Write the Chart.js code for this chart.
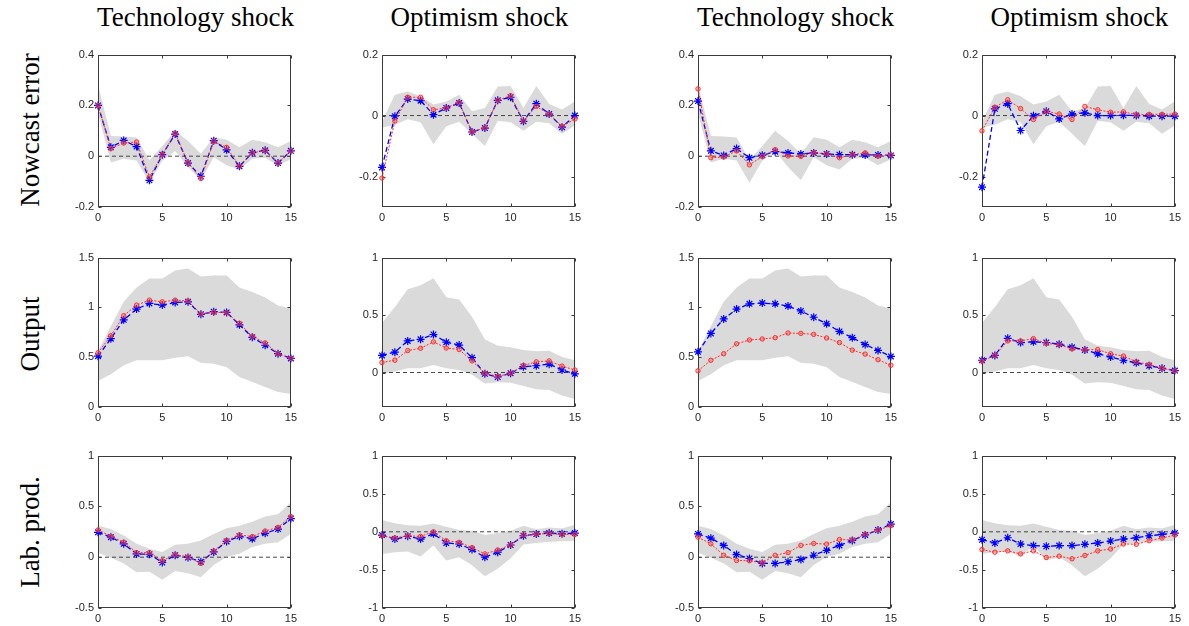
<!DOCTYPE html>
<html>
<head>
<meta charset="utf-8">
<script src="https://cdn.jsdelivr.net/npm/chart.js@4"></script>
<style>
  html, body { margin: 0; padding: 0; background: #fff; }
  #page { position: relative; width: 1189px; height: 626px; overflow: hidden; background: #fff; }
  #page canvas { position: absolute; }
  .colTitle, .rowTitle { position: absolute; font-family: "Liberation Serif", serif; font-size: 27px; color: #000; white-space: nowrap; }
  .colTitle { width: 260px; text-align: center; top: 2px; }
  .rowTitle { transform: translate(-50%, -50%) rotate(-90deg); }
</style>
</head>
<body>
<div id="page"></div>
<script>
// horizon (quarters)
const steps = [0, 1, 2, 3, 4, 5, 6, 7, 8, 9, 10, 11, 12, 13, 14, 15];
const xTicks = [0, 5, 10, 15];

const colTitles = ["Technology shock", "Optimism shock", "Technology shock", "Optimism shock"];
const rowTitles = ["Nowcast error", "Output", "Lab. prod."];

// Nowcast error - technology shock
const nowTechHi = [0.28, 0.08, 0.078, 0.074, -0.015, 0.04, 0.1, 0.06, 0.01, 0.075, 0.065, 0.035, 0.065, 0.055, 0.035, 0.06];
const nowTechLo = [0.17, -0.025, -0.01, -0.017, -0.105, -0.018, 0.02, -0.043, -0.095, -0.004, -0.036, -0.052, -0.01, -0.006, -0.036, -0.012];
const nowTechRedA = [0.2, 0.03, 0.052, 0.056, -0.082, 0.006, 0.091, -0.026, -0.088, 0.058, 0.035, -0.039, 0.013, 0.023, -0.027, 0.021];
const nowTechBlueA = [0.2, 0.035, 0.062, 0.038, -0.095, 0.006, 0.087, -0.027, -0.079, 0.061, 0.025, -0.04, 0.014, 0.023, -0.027, 0.021];
const nowTechRedB = [0.265, -0.006, -0.003, 0.021, -0.034, -0.001, 0.026, 0.001, -0.001, 0.014, 0.009, -0.006, 0.006, 0.013, 0, 0.005];
const nowTechBlueB = [0.217, 0.021, 0.003, 0.03, -0.006, 0.004, 0.018, 0.013, 0.009, 0.013, 0.009, 0.006, 0.006, 0.005, 0.005, 0.003];

// Nowcast error - optimism shock
const nowOptHi = [-0.02, 0.068, 0.079, 0.063, 0.036, 0.046, 0.068, 0.014, 0.025, 0.095, 0.097, 0.025, 0.097, 0.038, 0.02, 0.046];
const nowOptLo = [-0.04, -0.03, -0.012, -0.022, -0.094, -0.035, -0.02, -0.06, -0.1, -0.018, -0.022, -0.05, -0.02, -0.025, -0.06, -0.033];
const nowOptRedA = [-0.205, -0.018, 0.06, 0.06, 0.019, 0.025, 0.043, -0.054, -0.04, 0.05, 0.065, -0.018, 0.03, 0.005, -0.035, -0.011];
const nowOptBlueA = [-0.17, -0.002, 0.054, 0.049, 0.003, 0.025, 0.041, -0.054, -0.041, 0.05, 0.06, -0.019, 0.039, 0.005, -0.038, 0];
const nowOptRedB = [-0.05, 0.027, 0.052, 0.023, -0.013, 0.014, 0.005, -0.013, 0.03, 0.019, 0.011, 0.012, 0.003, 0.004, 0.004, 0.005];
const nowOptBlueB = [-0.235, 0.022, 0.039, -0.049, -0.001, 0.014, -0.011, 0.005, 0.009, 0, 0, 0.001, 0, -0.002, -0.002, -0.002];

// Output - technology shock
const outTechHi = [0.56, 0.81, 1.056, 1.2, 1.29, 1.29, 1.37, 1.39, 1.31, 1.32, 1.32, 1.2, 1.155, 1.1, 1.02, 0.99];
const outTechLo = [0.26, 0.33, 0.42, 0.47, 0.47, 0.47, 0.495, 0.51, 0.445, 0.435, 0.4, 0.3, 0.25, 0.2, 0.15, 0.13];
const outTechRedA = [0.545, 0.716, 0.917, 1.023, 1.073, 1.056, 1.073, 1.066, 0.934, 0.95, 0.947, 0.84, 0.71, 0.644, 0.535, 0.488];
const outTechBlueA = [0.51, 0.686, 0.875, 0.983, 1.04, 1.023, 1.05, 1.056, 0.93, 0.957, 0.95, 0.825, 0.7, 0.62, 0.535, 0.488];
const outTechRedB = [0.363, 0.469, 0.535, 0.634, 0.673, 0.683, 0.696, 0.743, 0.739, 0.729, 0.693, 0.647, 0.571, 0.531, 0.475, 0.419];
const outTechBlueB = [0.554, 0.739, 0.884, 0.983, 1.036, 1.043, 1.036, 1.013, 0.964, 0.901, 0.835, 0.759, 0.696, 0.627, 0.568, 0.508];

// Output - optimism shock
const outOptHi = [0.43, 0.57, 0.725, 0.76, 0.82, 0.655, 0.635, 0.486, 0.29, 0.233, 0.22, 0.197, 0.185, 0.19, 0.135, 0.107];
const outOptLo = [-0.01, 0.008, 0.037, 0.037, 0.065, 0.037, 0.022, -0.02, -0.095, -0.084, -0.09, -0.118, -0.146, -0.152, -0.2, -0.23];
const outOptRedA = [0.087, 0.107, 0.191, 0.211, 0.267, 0.213, 0.2, 0.101, -0.006, -0.034, -0.006, 0.062, 0.093, 0.101, 0.056, 0.022];
const outOptBlueA = [0.149, 0.177, 0.275, 0.289, 0.331, 0.264, 0.239, 0.129, -0.011, -0.039, -0.006, 0.051, 0.059, 0.073, 0.022, -0.011];
const outOptRedB = [0.098, 0.149, 0.275, 0.275, 0.295, 0.253, 0.242, 0.205, 0.197, 0.2, 0.163, 0.143, 0.093, 0.07, 0.037, 0.014];
const outOptBlueB = [0.107, 0.149, 0.298, 0.261, 0.267, 0.261, 0.247, 0.219, 0.197, 0.163, 0.135, 0.107, 0.084, 0.059, 0.037, 0.017];

// Labour productivity - technology shock
const labTechHi = [0.31, 0.277, 0.213, 0.132, 0.084, 0.052, 0.123, 0.132, 0.165, 0.229, 0.284, 0.31, 0.348, 0.4, 0.423, 0.542];
const labTechLo = [0.045, -0.006, -0.061, -0.148, -0.142, -0.223, -0.135, -0.158, -0.197, -0.077, 0.003, 0.035, 0.1, 0.132, 0.148, 0.229];
const labTechRedA = [0.268, 0.206, 0.148, 0.045, 0.045, -0.035, 0.026, 0.003, -0.061, 0.061, 0.165, 0.219, 0.203, 0.258, 0.294, 0.4];
const labTechBlueA = [0.245, 0.197, 0.132, 0.032, 0.029, -0.052, 0.019, -0.003, -0.045, 0.052, 0.155, 0.206, 0.181, 0.235, 0.277, 0.38];
const labTechRedB = [0.197, 0.132, 0.019, -0.032, -0.035, -0.055, 0.019, 0.045, 0.116, 0.135, 0.129, 0.174, 0.171, 0.226, 0.268, 0.31];
const labTechBlueB = [0.229, 0.187, 0.116, 0.026, -0.013, -0.061, -0.061, -0.045, -0.023, 0.019, 0.068, 0.116, 0.165, 0.219, 0.268, 0.326];

// Labour productivity - optimism shock
const labOptHi = [0.155, 0.112, 0.086, 0.078, 0.108, 0.065, 0.022, 0.013, -0.043, -0.017, 0.013, 0.078, 0.035, 0.056, 0.043, 0.091];
const labOptLo = [-0.29, -0.268, -0.26, -0.324, -0.181, -0.376, -0.333, -0.44, -0.583, -0.484, -0.346, -0.168, -0.147, -0.13, -0.125, -0.117];
const labOptRedA = [-0.052, -0.082, -0.052, -0.06, 0, -0.117, -0.138, -0.207, -0.29, -0.238, -0.173, -0.043, -0.03, -0.022, -0.035, -0.035];
const labOptBlueA = [-0.043, -0.095, -0.06, -0.095, -0.026, -0.147, -0.16, -0.233, -0.333, -0.268, -0.173, -0.052, -0.03, -0.017, -0.026, -0.017];
const labOptRedB = [-0.233, -0.268, -0.25, -0.29, -0.25, -0.337, -0.32, -0.354, -0.311, -0.25, -0.225, -0.16, -0.164, -0.117, -0.082, -0.043];
const labOptBlueB = [-0.104, -0.147, -0.078, -0.16, -0.181, -0.19, -0.181, -0.181, -0.164, -0.147, -0.121, -0.095, -0.078, -0.052, -0.035, -0.017];

// axis ranges and ticks
const techNowRange = [-0.2, 0.4], techNowTicks = [-0.2, 0, 0.2, 0.4];
const optNowRange = [-0.3, 0.2], optNowTicks = [-0.2, 0, 0.2];
const techOutRange = [0, 1.5], techOutTicks = [0, 0.5, 1, 1.5];
const optOutRange = [-0.3, 1], optOutTicks = [0, 0.5, 1];
const techLabRange = [-0.5, 1], techLabTicks = [-0.5, 0, 0.5, 1];
const optLabRange = [-1, 1], optLabTicks = [-1, -0.5, 0, 0.5, 1];

// layout of the plot boxes
const colLeft = [98, 382, 698, 982];
const plotWidth = 195;
const rowTop = [52, 255, 453];
const rowHeight = [155, 152, 155];
const PAD_L = 42, PAD_T = 8, PAD_R = 8, PAD_B = 22;

const panels = [
    // row 0
    [techNowRange, techNowTicks, nowTechLo, nowTechHi, nowTechRedA, nowTechBlueA],
    [optNowRange, optNowTicks, nowOptLo, nowOptHi, nowOptRedA, nowOptBlueA],
    [techNowRange, techNowTicks, nowTechLo, nowTechHi, nowTechRedB, nowTechBlueB],
    [optNowRange, optNowTicks, nowOptLo, nowOptHi, nowOptRedB, nowOptBlueB],
    // row 1
    [techOutRange, techOutTicks, outTechLo, outTechHi, outTechRedA, outTechBlueA],
    [optOutRange, optOutTicks, outOptLo, outOptHi, outOptRedA, outOptBlueA],
    [techOutRange, techOutTicks, outTechLo, outTechHi, outTechRedB, outTechBlueB],
    [optOutRange, optOutTicks, outOptLo, outOptHi, outOptRedB, outOptBlueB],
    // row 2
    [techLabRange, techLabTicks, labTechLo, labTechHi, labTechRedA, labTechBlueA],
    [optLabRange, optLabTicks, labOptLo, labOptHi, labOptRedA, labOptBlueA],
    [techLabRange, techLabTicks, labTechLo, labTechHi, labTechRedB, labTechBlueB],
    [optLabRange, optLabTicks, labOptLo, labOptHi, labOptRedB, labOptBlueB]
];

// matlab-ish box with inward ticks on all sides
const boxPlugin = {
    id: 'box',
    beforeDatasetsDraw(chart) {
        const ctx = chart.ctx;
        const a = chart.chartArea;
        const xs = chart.scales.x, ys = chart.scales.y;
        const L = Math.round(a.left) + 0.5, R = Math.round(a.right) - 0.5;
        const T = Math.round(a.top) + 0.5, B = Math.round(a.bottom) - 0.5;
        ctx.save();
        ctx.strokeStyle = '#3a3a3a';
        ctx.lineWidth = 1;
        ctx.strokeRect(L, T, R - L, B - T);
        ctx.beginPath();
        ys.ticks.forEach(t => {
            const py = Math.round(ys.getPixelForValue(t.value)) + 0.5;
            ctx.moveTo(L, py); ctx.lineTo(L + 3, py);
            ctx.moveTo(R, py); ctx.lineTo(R - 3, py);
        });
        xs.ticks.forEach(t => {
            const px = Math.round(xs.getPixelForValue(t.value)) + 0.5;
            ctx.moveTo(px, B); ctx.lineTo(px, B - 3);
            ctx.moveTo(px, T); ctx.lineTo(px, T + 3);
        });
        ctx.stroke();
        ctx.restore();
    }
};

function pts(vals) {
    return steps.map((s, i) => ({ x: s, y: vals[i] }));
}

const page = document.getElementById('page');

function makePanel(row, col, spec) {
    const [range, yTicks, lo, hi, red, blue] = spec;
    const w = plotWidth + PAD_L + PAD_R;
    const h = rowHeight[row] + PAD_T + PAD_B;
    const cv = document.createElement('canvas');
    cv.width = w; cv.height = h;
    cv.style.left = (colLeft[col] - PAD_L) + 'px';
    cv.style.top = (rowTop[row] - PAD_T) + 'px';
    cv.style.width = w + 'px'; cv.style.height = h + 'px';
    page.appendChild(cv);

    new Chart(cv, {
        type: 'line',
        data: {
            datasets: [
                { data: pts(red), borderColor: 'rgb(255,45,45)', borderWidth: 1, borderDash: [2, 1.5],
                  pointStyle: 'circle', pointRadius: 2.2, pointBorderWidth: 1,
                  pointBorderColor: 'rgb(255,45,45)', pointBackgroundColor: 'rgba(255,90,90,0.35)',
                  fill: false, clip: false, order: 0 },
                { data: pts(blue), borderColor: '#0000ff', borderWidth: 1.3, borderDash: [5, 3],
                  pointStyle: 'star', pointRadius: 4, pointBorderWidth: 1.2,
                  pointBorderColor: '#0000ff', pointBackgroundColor: '#0000ff',
                  fill: false, clip: false, order: 1 },
                { data: pts(steps.map(() => 0)), borderColor: '#444', borderWidth: 1, borderDash: [4, 3],
                  pointRadius: 0, fill: false, order: 2 },
                { data: pts(hi), borderWidth: 0, borderColor: 'rgba(0,0,0,0)', pointRadius: 0,
                  backgroundColor: '#dadada', fill: '+1', order: 3 },
                { data: pts(lo), borderWidth: 0, borderColor: 'rgba(0,0,0,0)', pointRadius: 0,
                  fill: false, order: 4 }
            ]
        },
        options: {
            responsive: false,
            animation: false,
            events: [],
            layout: { padding: { left: 0, top: PAD_T, right: PAD_R, bottom: 0 } },
            elements: { line: { tension: 0 } },
            plugins: { legend: { display: false }, tooltip: { enabled: false }, filler: { drawTime: 'beforeDraw' } },
            scales: {
                x: {
                    type: 'linear', min: 0, max: 15,
                    grid: { display: false, drawTicks: false }, border: { display: false },
                    afterBuildTicks: s => { s.ticks = xTicks.map(v => ({ value: v })); },
                    afterFit: s => { s.height = PAD_B; },
                    ticks: { padding: 4, maxRotation: 0, color: '#262626',
                             font: { family: 'Liberation Sans', size: 11 } }
                },
                y: {
                    min: range[0], max: range[1],
                    grid: { display: false, drawTicks: false }, border: { display: false },
                    afterBuildTicks: s => { s.ticks = yTicks.map(v => ({ value: v })); },
                    afterFit: s => { s.width = PAD_L; },
                    ticks: { padding: 4, color: '#262626', callback: v => String(v),
                             font: { family: 'Liberation Sans', size: 11 } }
                }
            }
        },
        plugins: [boxPlugin]
    });
}

panels.forEach((spec, i) => makePanel(Math.floor(i / 4), i % 4, spec));

colTitles.forEach((t, i) => {
    const d = document.createElement('div');
    d.className = 'colTitle';
    d.textContent = t;
    d.style.left = (colLeft[i] + plotWidth / 2 - 130) + 'px';
    page.appendChild(d);
});
const rowCenters = [130, 334, 532];
rowTitles.forEach((t, i) => {
    const d = document.createElement('div');
    d.className = 'rowTitle';
    d.textContent = t;
    d.style.left = '30px';
    d.style.top = rowCenters[i] + 'px';
    page.appendChild(d);
});
</script>
</body>
</html>
